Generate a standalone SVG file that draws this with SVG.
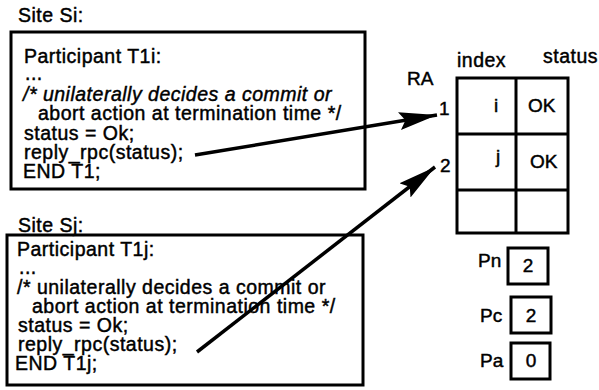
<svg xmlns="http://www.w3.org/2000/svg" width="599" height="390" viewBox="0 0 599 390">
<defs>
<style>
text{font-family:"Liberation Sans",Arial,Helvetica,sans-serif;font-size:19.5px;letter-spacing:0.5px;fill:#000;stroke:#000;stroke-width:0.45}
.it{font-style:italic}
.sm{font-size:19px;letter-spacing:0}
.box{fill:none;stroke:#000;stroke-width:3}
.conn{stroke:#000;stroke-width:3.5;fill:none}
</style>
<marker id="ah" markerUnits="userSpaceOnUse" markerWidth="40" markerHeight="20" refX="38" refY="9" orient="auto">
<path d="M0,0 L38,9 L0,18 L6,9 Z" fill="#000"/>
</marker>
</defs>
<rect width="599" height="390" fill="#fff"/>

<g id="siteSi">
<text x="18" y="22">Site Si:</text>
<rect class="box" x="11" y="32" width="354" height="157"/>
<text x="24" y="63">Participant T1i:</text>
<text x="25" y="80">...</text>
<text class="it" x="23" y="101">/* unilaterally decides a commit or</text>
<text x="38" y="120">abort action at termination time */</text>
<text x="24" y="140">status = Ok;</text>
<text x="24" y="159">reply_rpc(status);</text>
<text x="23" y="178">END T1;</text>
</g>

<g id="siteSj">
<text x="18" y="232">Site Sj:</text>
<rect class="box" x="7" y="235" width="356" height="150"/>
<text x="17" y="256">Participant T1j:</text>
<text x="19" y="274">...</text>
<text x="17" y="294">/* unilaterally decides a commit or</text>
<text x="32" y="313">abort action at termination time */</text>
<text x="18" y="332">status = Ok;</text>
<text x="18" y="351">reply_rpc(status);</text>
<text x="15" y="370">END T1j;</text>
</g>

<g id="RA">
<text x="457" y="67">index</text>
<text x="543" y="63">status</text>
<text class="sm" x="407" y="85">RA</text>
<text class="sm" x="439" y="115">1</text>
<text class="sm" x="440" y="172">2</text>
<rect class="box" x="457" y="78" width="111" height="155"/>
<line class="box" x1="516" y1="78" x2="516" y2="233"/>
<line class="box" x1="457" y1="134" x2="568" y2="134"/>
<line class="box" x1="457" y1="190" x2="568" y2="190"/>
<text class="sm" x="494" y="112">i</text>
<text class="sm" x="528" y="112">OK</text>
<text class="sm" x="496" y="163">j</text>
<text class="sm" x="530" y="168">OK</text>
</g>

<g id="Pn">
<text class="sm" x="478" y="267">Pn</text>
<rect class="box" x="508" y="248" width="40" height="36"/>
<text class="sm" x="528" y="272" text-anchor="middle">2</text>
</g>
<g id="Pc">
<text class="sm" x="480" y="322">Pc</text>
<rect class="box" x="511" y="297" width="40" height="36"/>
<text class="sm" x="531" y="322" text-anchor="middle">2</text>
</g>
<g id="Pa">
<text class="sm" x="480" y="367">Pa</text>
<rect class="box" x="511" y="343" width="39" height="36"/>
<text class="sm" x="531" y="367" text-anchor="middle">0</text>
</g>

<g id="connectors">
<line class="conn" x1="195" y1="155" x2="437" y2="115" marker-end="url(#ah)"/>
<line class="conn" x1="197" y1="352" x2="435" y2="167" marker-end="url(#ah)"/>
</g>
</svg>
